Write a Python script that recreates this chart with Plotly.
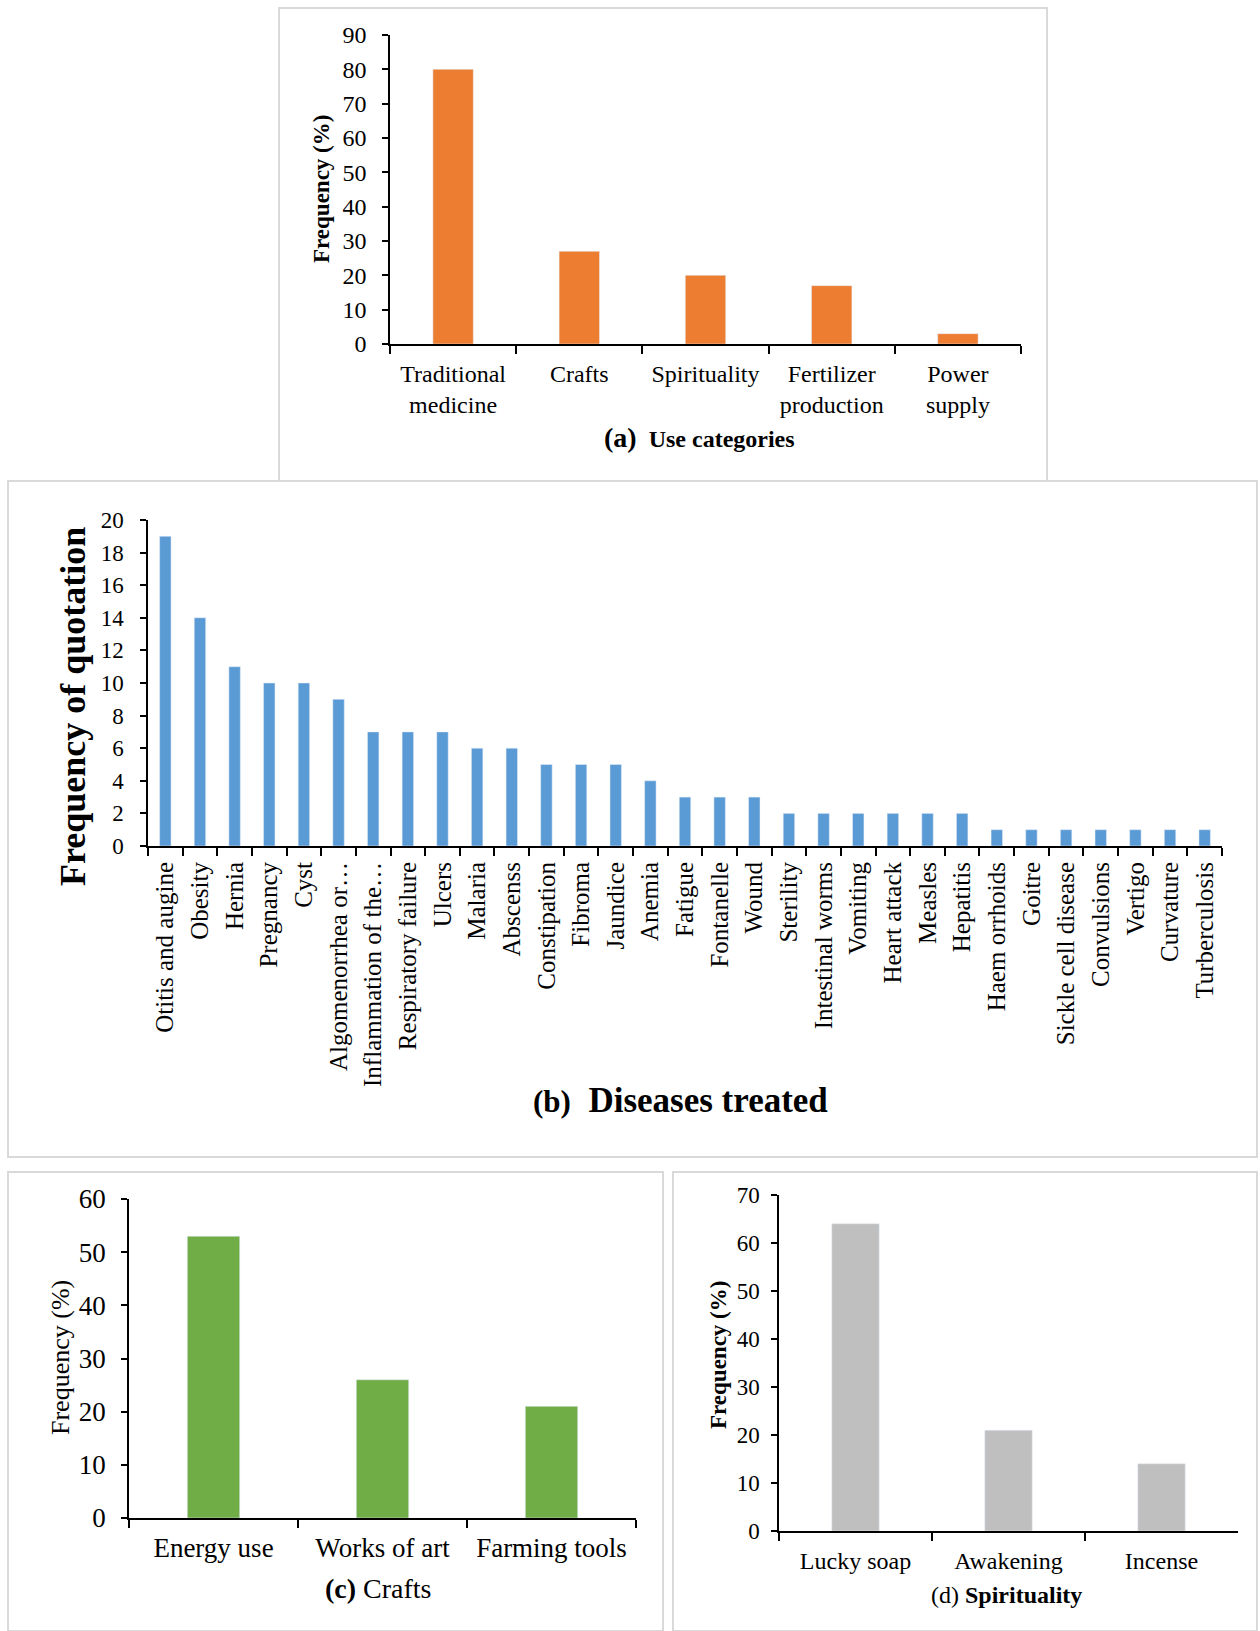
import plotly.graph_objects as go

# ---- data ----
use_categories = ["Traditional<br>medicine", "Crafts", "Spirituality", "Fertilizer<br>production", "Power<br>supply"]
use_freq = [80, 27, 20, 17, 3]

diseases = ["Otitis and augine", "Obesity", "Hernia", "Pregnancy", "Cyst", "Algomenorrhea or…",
            "Inflammation of the…", "Respiratory failure", "Ulcers", "Malaria", "Abscenss",
            "Constipation", "Fibroma", "Jaundice", "Anemia", "Fatigue", "Fontanelle", "Wound",
            "Sterility", "Intestinal worms", "Vomiting", "Heart attack", "Measles", "Hepatitis",
            "Haem orrhoids", "Goitre", "Sickle cell disease", "Convulsions", "Vertigo",
            "Curvature", "Turberculosis"]
disease_quotes = [19, 14, 11, 10, 10, 9, 7, 7, 7, 6, 6, 5, 5, 5, 4, 3, 3, 3,
                  2, 2, 2, 2, 2, 2, 1, 1, 1, 1, 1, 1, 1]

craft_uses = ["Energy use", "Works of art", "Farming tools"]
craft_freq = [53, 26, 21]

spirit_uses = ["Lucky soap", "Awakening", "Incense"]
spirit_freq = [64, 21, 14]

W, H = 1260, 1631
FONT = "Liberation Serif"


def px(x):
    return x / W


def py(y):
    return 1 - y / H


fig = go.Figure()

fig.add_trace(go.Bar(x=use_categories, y=use_freq, marker_color="#ED7D31", width=0.32,
                     xaxis="x", yaxis="y", hoverinfo="x+y"))
fig.add_trace(go.Bar(x=diseases, y=disease_quotes, marker_color="#5B9BD5", width=0.33,
                     xaxis="x2", yaxis="y2", hoverinfo="x+y"))
fig.add_trace(go.Bar(x=craft_uses, y=craft_freq, marker_color="#70AD47", width=0.31,
                     xaxis="x3", yaxis="y3", hoverinfo="x+y"))
fig.add_trace(go.Bar(x=spirit_uses, y=spirit_freq, marker_color="#BFBFBF", width=0.31,
                     xaxis="x4", yaxis="y4", hoverinfo="x+y"))


def xax(x0, x1, size, standoff, angle=0):
    return dict(domain=[px(x0), px(x1)], showline=True, linecolor="black", linewidth=2,
                ticks="outside", ticklen=8, tickwidth=1.5, tickcolor="black",
                tickson="boundaries", showgrid=False, zeroline=False, fixedrange=True,
                automargin=False, tickangle=angle, ticklabelstandoff=standoff,
                tickfont=dict(family=FONT, size=size, color="black"))


def yax(y_top, y_bot, rng, dtick, size, standoff):
    return dict(domain=[py(y_bot), py(y_top)], range=rng, dtick=dtick, showline=True,
                linecolor="black", linewidth=1.5, ticks="outside", ticklen=6, tickwidth=1.5,
                tickcolor="black", showgrid=False, zeroline=False, fixedrange=True,
                automargin=False, ticklabelstandoff=standoff,
                tickfont=dict(family=FONT, size=size, color="black"))


layout = dict(
    width=W, height=H, autosize=False,
    margin=dict(l=0, r=0, t=0, b=0, pad=0),
    paper_bgcolor="white", plot_bgcolor="white",
    showlegend=False,
    xaxis=dict(xax(390, 1021, 24, 7), anchor="y"),
    yaxis=dict(yax(35, 344, [0, 90], 10, 24, 11), anchor="x"),
    xaxis2=dict(xax(148, 1222, 25, 4, -90), anchor="y2"),
    yaxis2=dict(yax(520, 846, [0, 20], 2, 23, 12), anchor="x2"),
    xaxis3=dict(xax(129, 636, 27, 5), anchor="y3"),
    yaxis3=dict(yax(1199, 1518, [0, 60], 10, 27, 10), anchor="x3"),
    xaxis4=dict(xax(779, 1238, 24, 7), anchor="y4"),
    yaxis4=dict(yax(1195, 1531, [0, 70], 10, 23, 7), anchor="x4"),
)

# panel frames
frames = [(279, 8, 1047, 481), (8, 481, 1257, 1157), (8, 1172, 663, 1631), (673, 1172, 1257, 1631)]
shapes = []
for x0, y0, x1, y1 in frames:
    shapes.append(dict(type="rect", xref="paper", yref="paper", x0=px(x0), x1=px(x1),
                       y0=py(y1), y1=py(y0), line=dict(color="#D9D9D9", width=2),
                       fillcolor="rgba(0,0,0,0)", layer="below"))
layout["shapes"] = shapes


def note(x, y, text, size, angle=0):
    return dict(xref="paper", yref="paper", x=px(x), y=py(y), text=text, showarrow=False,
                textangle=angle, xanchor="center", yanchor="middle",
                font=dict(family=FONT, size=size, color="black"))


layout["annotations"] = [
    # axis titles
    note(321, 189, "<b>Frequency (%)</b>", 23, -90),
    note(73, 707, "<b>Frequency of quotation</b>", 36, -90),
    note(60, 1358, "Frequency (%)", 26, -90),
    note(718, 1355, "<b>Frequency (%)</b>", 23, -90),
    # panel captions
    note(699, 438, "<b><span style='font-size:28px'>(a)</span>  Use categories</b>", 24),
    note(680, 1100, "<b><span style='font-size:31px'>(b)</span>  Diseases treated</b>", 35),
    note(378, 1588, "<b>(c)</b> Crafts", 28),
    note(1006, 1595, "(d) <b>Spirituality</b>", 24),
]

fig.update_layout(**layout)
fig.write_html("out.html")
